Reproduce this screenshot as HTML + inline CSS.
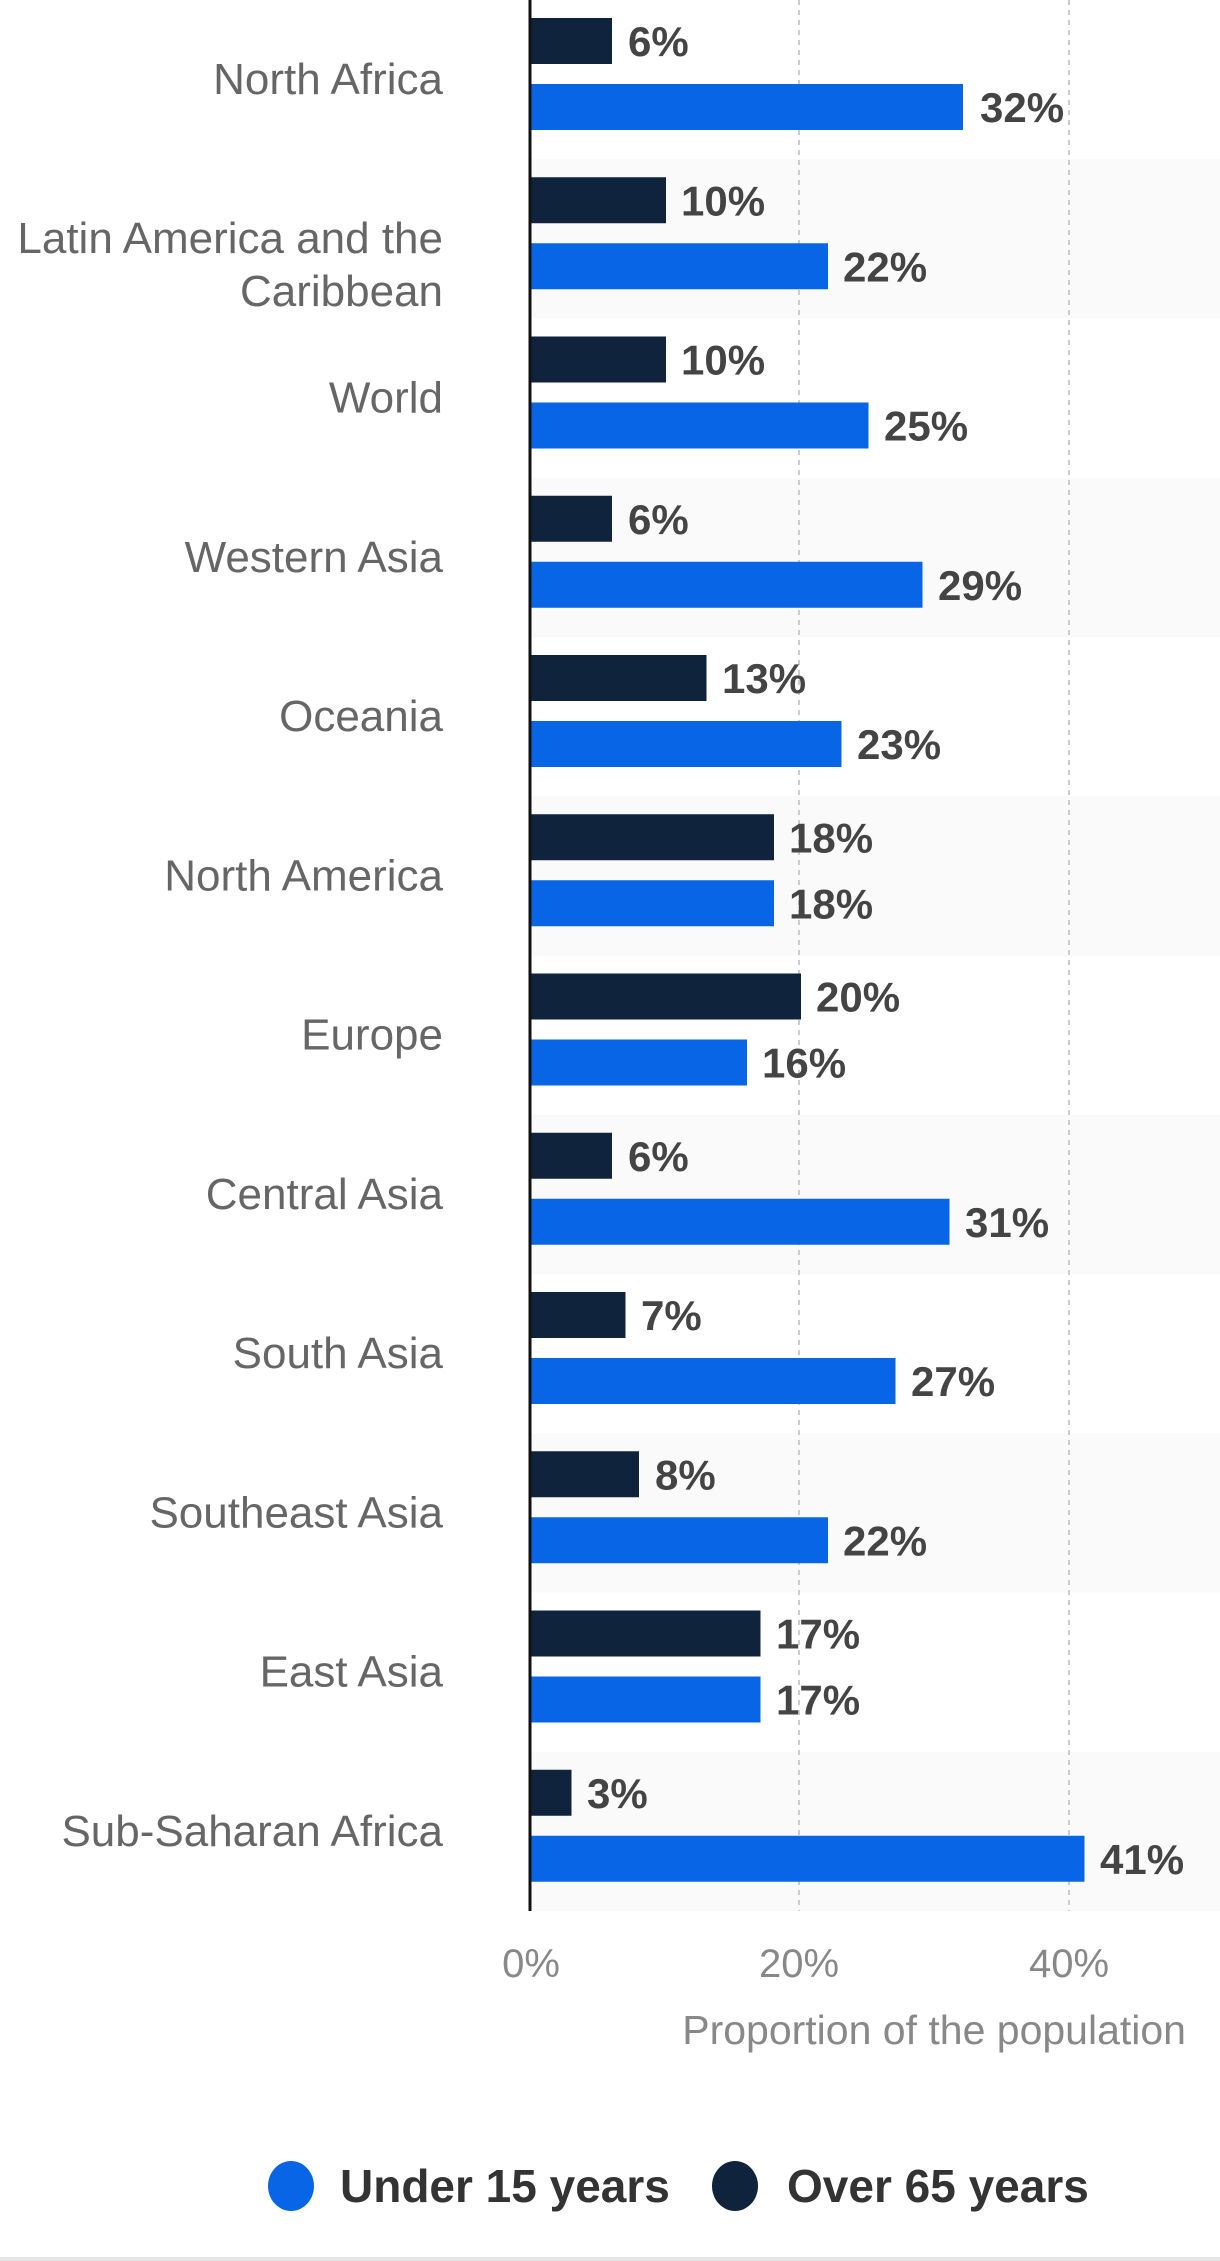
<!DOCTYPE html>
<html><head><meta charset="utf-8"><style>
html,body{margin:0;padding:0;background:#fff;}
svg{display:block;font-family:"Liberation Sans",sans-serif;}
.lab{font-size:44px;fill:#666;text-anchor:end;}
.val{font-size:42px;font-weight:bold;fill:#444;}
.tick{font-size:40px;fill:#888;text-anchor:middle;}
</style></head><body>
<svg width="1220" height="2261" viewBox="0 0 1220 2261">
<rect x="531" y="159.25" width="689" height="159.25" fill="#fafafa"/>
<rect x="531" y="477.75" width="689" height="159.25" fill="#fafafa"/>
<rect x="531" y="796.25" width="689" height="159.25" fill="#fafafa"/>
<rect x="531" y="1114.75" width="689" height="159.25" fill="#fafafa"/>
<rect x="531" y="1433.25" width="689" height="159.25" fill="#fafafa"/>
<rect x="531" y="1751.75" width="689" height="159.25" fill="#fafafa"/>
<line x1="799" y1="0" x2="799" y2="1911" stroke="#ccc" stroke-width="2" stroke-dasharray="5,5"/>
<line x1="1069" y1="0" x2="1069" y2="1911" stroke="#ccc" stroke-width="2" stroke-dasharray="5,5"/>
<g>
<rect x="531" y="18" width="81" height="46" fill="#10233d"/><rect x="531" y="84" width="432" height="46" fill="#0866e6"/>
<text class="val" x="628" y="56">6%</text><text class="val" x="980" y="122">32%</text>
<text class="lab" x="443" y="94">North Africa</text>
<rect x="531" y="177.25" width="135" height="46" fill="#10233d"/><rect x="531" y="243.25" width="297" height="46" fill="#0866e6"/>
<text class="val" x="681" y="215.25">10%</text><text class="val" x="843" y="281.25">22%</text>
<text class="lab" x="443" y="253">Latin America and the</text><text class="lab" x="443" y="306">Caribbean</text>
<rect x="531" y="336.5" width="135" height="46" fill="#10233d"/><rect x="531" y="402.5" width="337.5" height="46" fill="#0866e6"/>
<text class="val" x="681" y="374.5">10%</text><text class="val" x="884" y="440.5">25%</text>
<text class="lab" x="443" y="412.5">World</text>
<rect x="531" y="495.75" width="81" height="46" fill="#10233d"/><rect x="531" y="561.75" width="391.5" height="46" fill="#0866e6"/>
<text class="val" x="628" y="533.75">6%</text><text class="val" x="938" y="599.75">29%</text>
<text class="lab" x="443" y="571.75">Western Asia</text>
<rect x="531" y="655" width="175.5" height="46" fill="#10233d"/><rect x="531" y="721" width="310.5" height="46" fill="#0866e6"/>
<text class="val" x="722" y="693">13%</text><text class="val" x="857" y="759">23%</text>
<text class="lab" x="443" y="731">Oceania</text>
<rect x="531" y="814.25" width="243" height="46" fill="#10233d"/><rect x="531" y="880.25" width="243" height="46" fill="#0866e6"/>
<text class="val" x="789" y="852.25">18%</text><text class="val" x="789" y="918.25">18%</text>
<text class="lab" x="443" y="890.25">North America</text>
<rect x="531" y="973.5" width="270" height="46" fill="#10233d"/><rect x="531" y="1039.5" width="216" height="46" fill="#0866e6"/>
<text class="val" x="816" y="1011.5">20%</text><text class="val" x="762" y="1077.5">16%</text>
<text class="lab" x="443" y="1049.5">Europe</text>
<rect x="531" y="1132.75" width="81" height="46" fill="#10233d"/><rect x="531" y="1198.75" width="418.5" height="46" fill="#0866e6"/>
<text class="val" x="628" y="1170.75">6%</text><text class="val" x="965" y="1236.75">31%</text>
<text class="lab" x="443" y="1208.75">Central Asia</text>
<rect x="531" y="1292" width="94.5" height="46" fill="#10233d"/><rect x="531" y="1358" width="364.5" height="46" fill="#0866e6"/>
<text class="val" x="641" y="1330">7%</text><text class="val" x="911" y="1396">27%</text>
<text class="lab" x="443" y="1368">South Asia</text>
<rect x="531" y="1451.25" width="108" height="46" fill="#10233d"/><rect x="531" y="1517.25" width="297" height="46" fill="#0866e6"/>
<text class="val" x="655" y="1489.25">8%</text><text class="val" x="843" y="1555.25">22%</text>
<text class="lab" x="443" y="1527.25">Southeast Asia</text>
<rect x="531" y="1610.5" width="229.5" height="46" fill="#10233d"/><rect x="531" y="1676.5" width="229.5" height="46" fill="#0866e6"/>
<text class="val" x="776" y="1648.5">17%</text><text class="val" x="776" y="1714.5">17%</text>
<text class="lab" x="443" y="1686.5">East Asia</text>
<rect x="531" y="1769.75" width="40.5" height="46" fill="#10233d"/><rect x="531" y="1835.75" width="553.5" height="46" fill="#0866e6"/>
<text class="val" x="587" y="1807.75">3%</text><text class="val" x="1100" y="1873.75">41%</text>
<text class="lab" x="443" y="1845.75">Sub-Saharan Africa</text>
</g>
<line x1="530" y1="0" x2="530" y2="1911" stroke="#111" stroke-width="3"/>
<text class="tick" x="531" y="1977">0%</text>
<text class="tick" x="799" y="1977">20%</text>
<text class="tick" x="1069" y="1977">40%</text>
<text x="1186" y="2044" font-size="41" fill="#888" text-anchor="end">Proportion of the population</text>
<ellipse cx="291" cy="2186" rx="23" ry="25" fill="#0866e6"/>
<text x="340" y="2202" font-size="46" font-weight="bold" fill="#333">Under 15 years</text>
<ellipse cx="735" cy="2186" rx="23" ry="25" fill="#10233d"/>
<text x="787" y="2202" font-size="46" font-weight="bold" fill="#333">Over 65 years</text>
<rect x="0" y="2257" width="1220" height="4" fill="#e6e6e6"/>
</svg>
</body></html>
